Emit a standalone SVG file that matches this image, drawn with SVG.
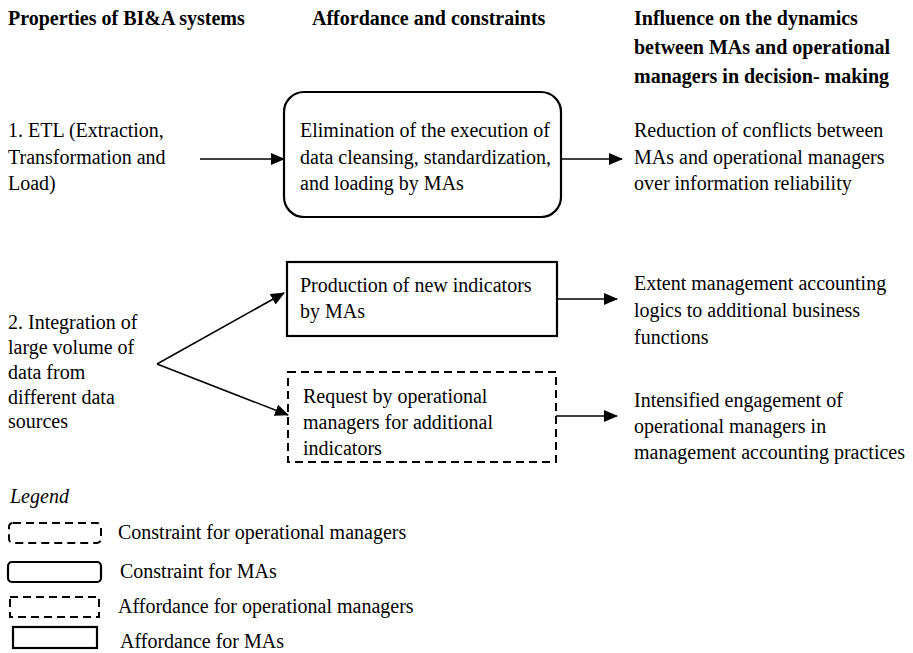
<svg xmlns="http://www.w3.org/2000/svg" width="913" height="653" viewBox="0 0 913 653">
<style>
text{font-family:"Liberation Serif","Times New Roman",serif;font-size:20px;fill:#000}
.h{font-weight:bold}
.it{font-style:italic}
.box{fill:none;stroke:#000;stroke-width:2.2}
.dash{fill:none;stroke:#000;stroke-width:2;stroke-dasharray:8 5}
.con{stroke:#000;stroke-width:1.6;fill:none;marker-end:url(#ah)}
</style>
<defs>
<marker id="ah" markerUnits="userSpaceOnUse" markerWidth="14" markerHeight="12" refX="13" refY="6" orient="auto">
<path d="M0,0 L14,6 L0,12 Z" fill="#000"/>
</marker>
</defs>
<g id="headers">
<text class="h" x="8" y="25">Properties of BI&amp;A systems</text>
<text class="h" x="312" y="25">Affordance and constraints</text>
<text class="h" x="634" y="25">Influence on the dynamics</text>
<text class="h" x="634" y="54">between MAs and operational</text>
<text class="h" x="634" y="83">managers in decision- making</text>
</g>
<g id="prop1">
<text x="8" y="137">1. ETL (Extraction,</text>
<text x="8" y="164">Transformation and</text>
<text x="8" y="190">Load)</text>
</g>
<g id="box1">
<rect class="box" x="284" y="92" width="277" height="125" rx="20"/>
<text x="300" y="137">Elimination of the execution of</text>
<text x="300" y="164">data cleansing, standardization,</text>
<text x="300" y="190">and loading by MAs</text>
</g>
<g id="out1">
<text x="634" y="137">Reduction of conflicts between</text>
<text x="634" y="164">MAs and operational managers</text>
<text x="634" y="190">over information reliability</text>
</g>
<g id="prop2">
<text x="8" y="329">2. Integration of</text>
<text x="8" y="354">large volume of</text>
<text x="8" y="379">data from</text>
<text x="8" y="404">different data</text>
<text x="8" y="428">sources</text>
</g>
<g id="box2">
<rect class="box" x="287" y="262" width="270" height="74"/>
<text x="300" y="292">Production of new indicators</text>
<text x="300" y="318">by MAs</text>
</g>
<g id="out2">
<text x="634" y="290">Extent management accounting</text>
<text x="634" y="317">logics to additional business</text>
<text x="634" y="344">functions</text>
</g>
<g id="box3">
<rect class="dash" x="288" y="372" width="268" height="90"/>
<text x="303" y="403">Request by operational</text>
<text x="303" y="429">managers for additional</text>
<text x="303" y="455">indicators</text>
</g>
<g id="out3">
<text x="634" y="407">Intensified engagement of</text>
<text x="634" y="433">operational managers in</text>
<text x="634" y="459">management accounting practices</text>
</g>
<g id="connectors">
<line class="con" x1="200" y1="159" x2="284" y2="159"/>
<line class="con" x1="561" y1="159" x2="622" y2="159"/>
<line class="con" x1="157" y1="364" x2="284" y2="293"/>
<line class="con" x1="157" y1="364" x2="288" y2="415"/>
<line class="con" x1="557" y1="299" x2="617" y2="299"/>
<line class="con" x1="556" y1="416" x2="617" y2="416"/>
</g>
<g id="legend">
<text class="it" x="10" y="503">Legend</text>
<rect class="dash" x="9" y="523" width="92" height="20" rx="4"/>
<text x="118" y="539">Constraint for operational managers</text>
<rect class="box" x="8" y="562" width="93" height="20" rx="4"/>
<text x="120" y="578">Constraint for MAs</text>
<rect class="dash" x="10" y="597" width="89" height="20"/>
<text x="118" y="613">Affordance for operational managers</text>
<rect class="box" x="13" y="627" width="84" height="21"/>
<text x="120" y="648">Affordance for MAs</text>
</g>
</svg>
